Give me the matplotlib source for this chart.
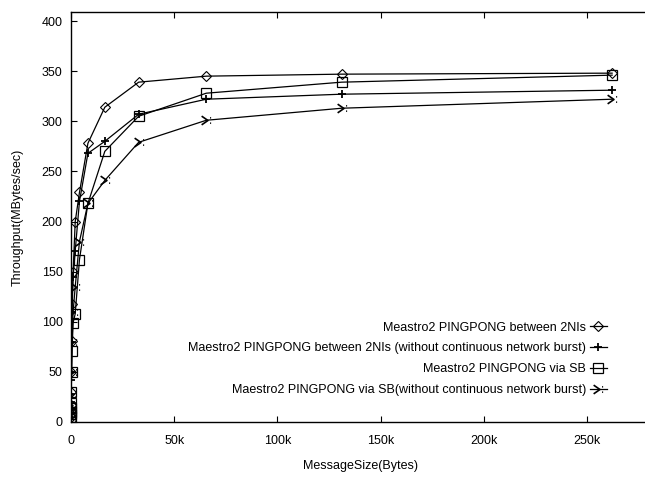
import matplotlib
matplotlib.use("Agg")
import matplotlib.pyplot as plt
from matplotlib.path import Path
from matplotlib.ticker import FuncFormatter

plt.rcParams['font.family'] = ['Liberation Sans', 'DejaVu Sans']

sizes = [4, 8, 16, 32, 64, 128, 256, 512, 1024, 2048, 4096, 8192,
         16384, 32768, 65536, 131072, 262144]

ni_burst = [5, 8, 12, 17, 30, 50, 81, 118, 150, 200, 229, 278, 314, 339, 345, 347, 348]
ni_noburst = [8, 12, 20, 28, 42, 50, 80, 110, 145, 171, 220, 268, 280, 307, 322, 327, 331]
sb_burst = [5, 8, 10, 14, 19, 30, 50, 71, 99, 108, 162, 218, 270, 305, 328, 339, 346]
sb_noburst = [4, 6, 9, 12, 17, 28, 50, 80, 110, 135, 180, 218, 241, 279, 301, 313, 322]

labels = ["Meastro2 PINGPONG between 2NIs",
          "Maestro2 PINGPONG between 2NIs (without continuous network burst)",
          "Meastro2 PINGPONG via SB",
          "Maestro2 PINGPONG via SB(without continuous network burst)"]

xticks = [0, 50000, 100000, 150000, 200000, 250000]
yticks = [0, 50, 100, 150, 200, 250, 300, 350, 400]

# custom chevron-with-colon marker
verts = [(-1.0, 0.9), (0.3, 0.0), (-1.0, -0.9),
         (0.75, 0.55), (0.95, 0.55),
         (0.75, -0.55), (0.95, -0.55)]
codes = [Path.MOVETO, Path.LINETO, Path.LINETO,
         Path.MOVETO, Path.LINETO,
         Path.MOVETO, Path.LINETO]
chev = Path(verts, codes)

fig = plt.figure(figsize=(6.45, 4.78), dpi=100)
ax = fig.add_axes([71/645, 1-422/478, 578/645, 410/478])

common = dict(color='black', lw=0.9, mec='black', mfc='none')
ax.plot(sizes, ni_burst, marker='D', ms=5, mew=0.8, label=labels[0], **common)
ax.plot(sizes, ni_noburst, marker='+', ms=6, mew=1.3, label=labels[1], **common)
ax.plot(sizes, sb_burst, marker='s', ms=6.5, mew=0.9, label=labels[2], **common)
ax.plot(sizes, sb_noburst, marker=chev, ms=7, mew=1.2, label=labels[3], **common)

FS = 9
ax.set_xlim(0, 280000)
ax.set_ylim(0, 409)
ax.set_xticks(xticks)
ax.set_yticks(yticks)
ax.xaxis.set_major_formatter(FuncFormatter(lambda v, p: '0' if v == 0 else f'{int(v/1000)}k'))
ax.tick_params(direction='in', length=4, width=0.8, labelsize=FS, top=True, right=False, pad=6)
ax.tick_params(axis='x', pad=9)
for s in ['left', 'bottom', 'top']:
    ax.spines[s].set_linewidth(1.0)
ax.spines['right'].set_visible(False)

ax.set_xlabel('MessageSize(Bytes)', fontsize=FS, labelpad=10)
ax.set_ylabel('Throughput(MBytes/sec)', fontsize=FS, labelpad=13)

leg = ax.legend(loc='lower right', bbox_to_anchor=((612-71)/578, (422-401)/410),
                frameon=False, markerfirst=False, fontsize=FS,
                handlelength=1.4, handletextpad=0.3, labelspacing=0.7,
                borderaxespad=0)
for t in leg.get_texts():
    t.set_ha('right')
leg._legend_box.align = 'right'

fig.savefig('out.png', dpi=100)
